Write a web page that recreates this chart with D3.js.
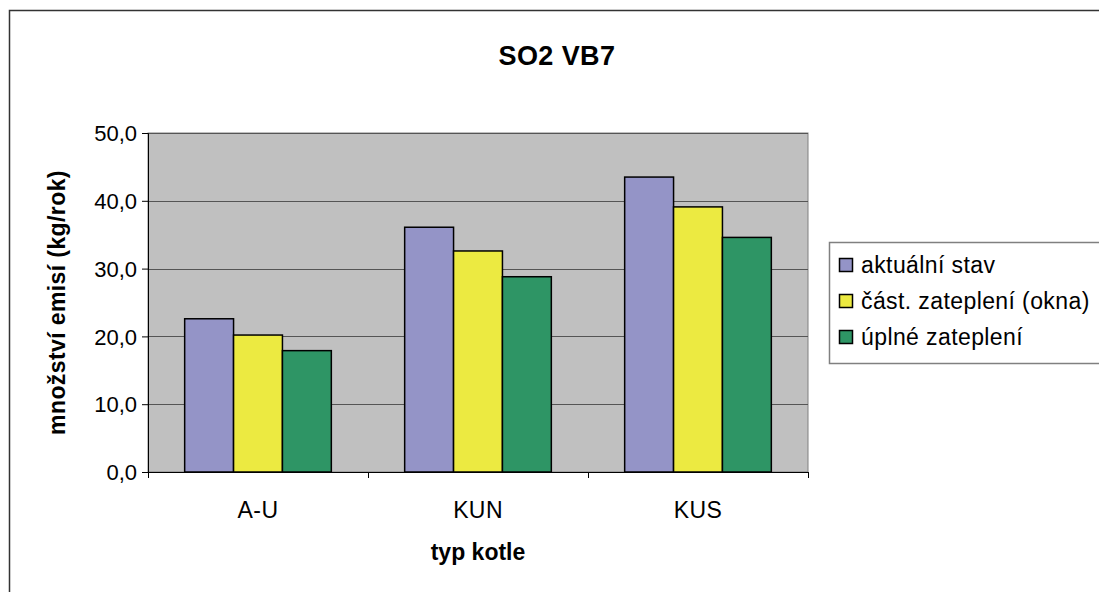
<!DOCTYPE html>
<html>
<head>
<meta charset="utf-8">
<script src="https://cdn.jsdelivr.net/npm/d3@7"></script>
<style>
html,body{margin:0;padding:0;background:#fff;}
svg{display:block;font-family:"Liberation Sans",Arial,sans-serif;}
</style>
</head>
<body>
<svg id="chart" width="1099" height="592"></svg>
<script>
const categories = ["A-U", "KUN", "KUS"];
const seriesLabels = ["aktuální stav", "část. zateplení (okna)", "úplné zateplení"];
const aktualniStav = [22.6, 36.1, 43.5];
const castZatepleni = [20.2, 32.6, 39.1];
const uplneZatepleni = [17.9, 28.8, 34.6];
const yTicks = [0, 10, 20, 30, 40, 50];
const colors = ["#9494C7", "#ECEA41", "#2E9565"];

const seriesValues = [aktualniStav, castZatepleni, uplneZatepleni];
const FONT = "'Liberation Sans',Arial,sans-serif";

const svg = d3.select("#chart");
const plot = {left: 148, top: 133, right: 808, bottom: 472};

// outer chart frame
svg.append("rect").attr("x", 9.5).attr("y", 10.5).attr("width", 1200).attr("height", 700)
  .attr("fill", "#fff").attr("stroke", "#333").attr("stroke-width", 1.5);

const x0 = d3.scaleBand().domain(categories).range([plot.left, plot.right]).paddingInner(0).paddingOuter(0);
const y = d3.scaleLinear().domain([0, 50]).range([plot.bottom, plot.top]);
const bw = x0.bandwidth() / 4.5;
const x1 = d3.scaleBand().domain(d3.range(3)).range([bw * 0.75, bw * 3.75]).padding(0);

// plot background
svg.append("rect").attr("x", plot.left).attr("y", plot.top)
  .attr("width", plot.right - plot.left).attr("height", plot.bottom - plot.top)
  .attr("fill", "#C0C0C0").attr("stroke", "#808080").attr("stroke-width", 1);

// gridlines
svg.append("g").selectAll("line").data(yTicks.filter(d => d > 0)).join("line")
  .attr("x1", plot.left).attr("x2", plot.right)
  .attr("y1", d => Math.round(y(d)) + 0.5).attr("y2", d => Math.round(y(d)) + 0.5)
  .attr("stroke", "#555").attr("stroke-width", 1);

// bars
const groups = svg.append("g").selectAll("g").data(categories).join("g")
  .attr("transform", d => `translate(${x0(d)},0)`);
groups.selectAll("rect").data((c, ci) => seriesValues.map((s, si) => ({si, v: s[ci]}))).join("rect")
  .attr("x", d => x1(d.si)).attr("width", x1.bandwidth())
  .attr("y", d => y(d.v)).attr("height", d => y(0) - y(d.v))
  .attr("fill", d => colors[d.si]).attr("stroke", "#000").attr("stroke-width", 1.5);

// y axis
const yAxis = d3.axisLeft(y).tickValues(yTicks).tickSize(6).tickPadding(5)
  .tickFormat(d => d3.format(".1f")(d).replace(".", ","));
const gy = svg.append("g").attr("transform", `translate(${plot.left},0)`).call(yAxis);
gy.attr("font-size", null).attr("font-family", null);
gy.select(".domain").attr("stroke", "#000");
gy.selectAll(".tick line").attr("stroke", "#000");
gy.selectAll("text").style("font-size", "22px").attr("fill", "#000").attr("dy", "0.35em")
  .style("font-family", FONT);

// x axis
const xAxis = d3.axisBottom(x0).tickSize(0).tickPadding(0);
const gx = svg.append("g").attr("transform", `translate(0,${plot.bottom})`).call(xAxis);
gx.attr("font-size", null).attr("font-family", null);
gx.select(".domain").attr("stroke", "#000");
gx.selectAll("text").style("font-size", "23px").attr("fill", "#000").attr("dy", null).attr("y", 46)
  .style("font-family", FONT).style("letter-spacing", "0.4px");
// category boundary ticks
const bounds = categories.map(c => x0(c)).concat([plot.right]);
svg.append("g").selectAll("line").data(bounds).join("line")
  .attr("x1", d => Math.round(d) + 0.5).attr("x2", d => Math.round(d) + 0.5)
  .attr("y1", plot.bottom).attr("y2", plot.bottom + 6).attr("stroke", "#000");

// title
svg.append("text").attr("x", 557).attr("y", 65).attr("text-anchor", "middle")
  .style("font-size", "27px").attr("font-weight", "bold").style("letter-spacing", "0.4px").text("SO2 VB7");

// axis titles
svg.append("text").attr("x", (plot.left + plot.right) / 2).attr("y", 560)
  .attr("text-anchor", "middle").style("font-size", "23px").attr("font-weight", "bold")
  .text("typ kotle");
svg.append("text").attr("transform", `translate(65,${(plot.top + plot.bottom) / 2}) rotate(-90)`)
  .attr("text-anchor", "middle").style("font-size", "23px").attr("font-weight", "bold")
  .style("letter-spacing", "0.4px").text("množství emisí (kg/rok)");

// legend
const lg = svg.append("g");
lg.append("rect").attr("x", 829.5).attr("y", 242.5).attr("width", 300).attr("height", 121)
  .attr("fill", "#fff").attr("stroke", "#808080").attr("stroke-width", 1.5);
const items = lg.selectAll("g").data(seriesLabels).join("g")
  .attr("transform", (d, i) => `translate(839,${265 + i * 36})`);
items.append("rect").attr("x", 0.5).attr("y", -6.5).attr("width", 13).attr("height", 13)
  .attr("fill", (d, i) => colors[i]).attr("stroke", "#000").attr("stroke-width", 1.5);
items.append("text").attr("x", 22).attr("y", 8).style("font-size", "23px")
  .style("letter-spacing", "0.4px").text(d => d);
</script>
</body>
</html>
